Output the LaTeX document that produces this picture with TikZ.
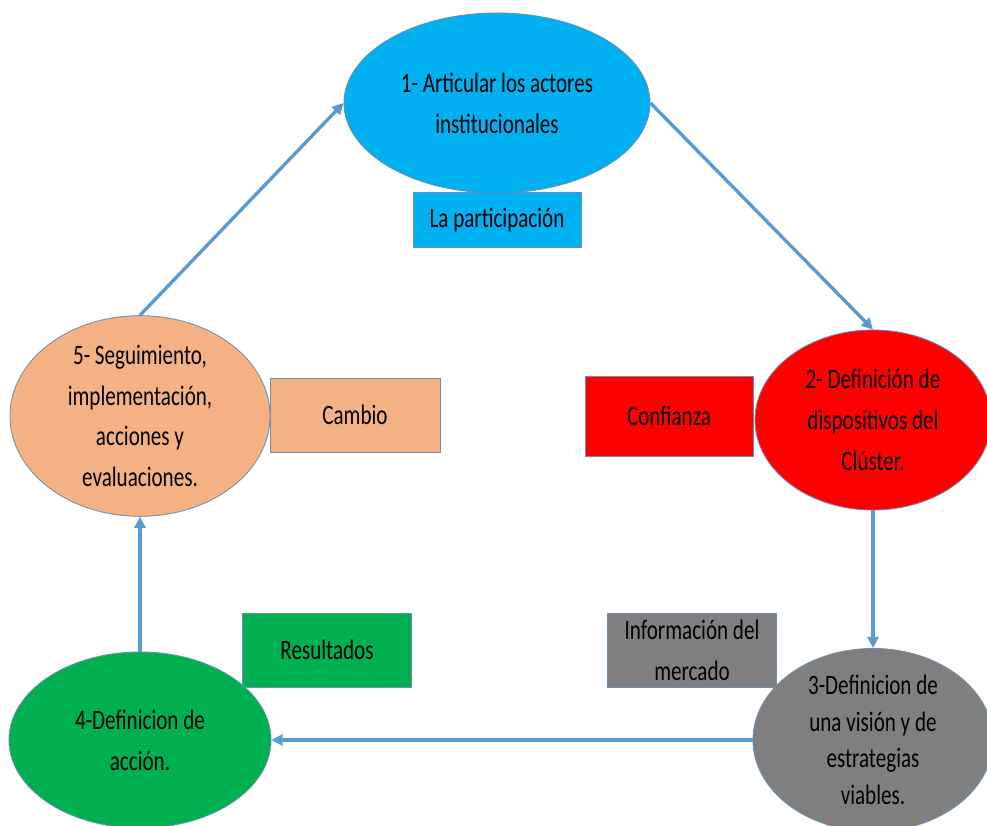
\documentclass[tikz,border=0pt]{standalone}
\usepackage{fontspec}
\newfontfamily\diagfont[FakeStretch=0.75]{Carlito}
\usetikzlibrary{shapes.geometric, arrows.meta}
\usepackage{xcolor}
\definecolor{clblue}{HTML}{00B0F0}
\definecolor{clred}{HTML}{FF0000}
\definecolor{clgray}{HTML}{7F7F7F}
\definecolor{clgreen}{HTML}{00B050}
\definecolor{clpeach}{HTML}{F4B183}
\definecolor{cledge}{HTML}{6F8FB0}
\definecolor{clarrow}{HTML}{5B9BD5}

\begin{document}
\begin{tikzpicture}[x=0.025cm, y=-0.025cm,
    font=\diagfont\fontsize{20}{29}\selectfont,
    stage/.style={ellipse, draw=cledge, line width=0.6pt, inner sep=0pt, align=center},
    tag/.style={rectangle, draw=cledge, line width=0.6pt, inner sep=0pt, align=center},
    flow/.style={-{Triangle[length=8pt,width=8pt]}, line width=2.4pt, color=clarrow}]
        \useasboundingbox (0,0) rectangle (987,826);
        % boxes
        \node[tag, fill=clblue, minimum width=4.2cm, minimum height=1.375cm] (part) at (497,220) {La participación};
        \node[tag, fill=clpeach, minimum width=4.25cm, minimum height=1.85cm] (camb) at (355,415) {Cambio};
        \node[tag, fill=clred, minimum width=4.2cm, minimum height=2cm] (conf) at (669,416) {Confianza};
        \node[tag, fill=clgreen, minimum width=4.225cm, minimum height=1.85cm] (resu) at (327,650) {Resultados};
        \node[tag, fill=clgray, minimum width=4.225cm, minimum height=1.85cm] (info) at (692,650) {Información del\\mercado};
        % stages
        \node[stage, fill=clblue, minimum width=7.65cm, minimum height=4.5cm] (s1) at (497,103) {1- Articular los actores\\institucionales};
        \node[stage, fill=clred, minimum width=5.9cm, minimum height=4.5cm] (s2) at (873,420) {2- Definición de\\dispositivos del\\Clúster.};
        \node[stage, fill=clgray, minimum width=6cm, minimum height=4.4cm, font=\diagfont\fontsize{20}{26}\selectfont] (s3) at (873,740) {3-Definicion de\\una visión y de\\estrategias\\viables.};
        \node[stage, fill=clgreen, minimum width=6.55cm, minimum height=4.4cm] (s4) at (140,740) {4-Definicion de\\acción.};
        \node[stage, fill=clpeach, minimum width=6.5cm, minimum height=4.45cm] (s5) at (140,416) {5- Seguimiento,\\implementación,\\acciones y\\evaluaciones.};
        % cycle
        \draw[flow] (s1.east) -- (s2.north);
        \draw[flow] (s2.south) -- (s3.north);
        \draw[flow] (s3.west) -- (s4.east);
        \draw[flow] (s4.north) -- (s5.south);
        \draw[flow] (s5.north) -- (s1.west);
      \end{tikzpicture}
\end{document}
